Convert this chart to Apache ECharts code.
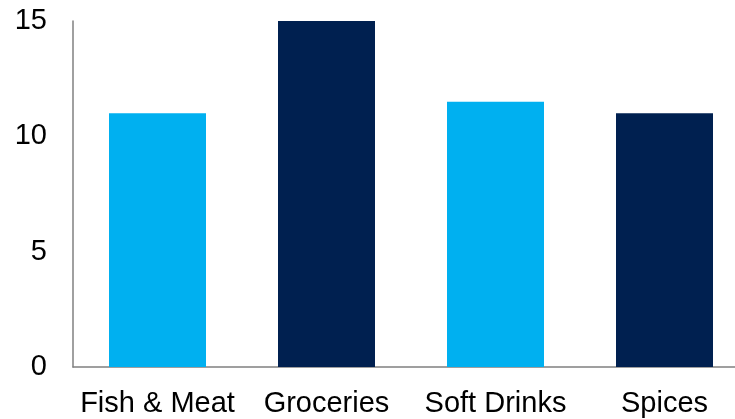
<!DOCTYPE html>
<html>
<head>
<meta charset="utf-8">
<script src="https://cdn.jsdelivr.net/npm/echarts@6/dist/echarts.min.js"></script>
<style>html,body{margin:0;padding:0;background:#fff;overflow:hidden;width:735px;height:419px}#c{width:749px;height:419px}</style>
</head>
<body>
<div id="c"></div>
<script>
const categories = ["Fish & Meat", "Groceries", "Soft Drinks", "Spices"];
const values = [11, 15, 11.5, 11];
const barColors = ["#00B0F0", "#002050", "#00B0F0", "#002050"];
const yTicks = [0, 5, 10, 15];

const chart = echarts.init(document.getElementById('c'), null, {renderer: 'canvas'});
chart.setOption({
  animation: false,
  grid: {left: 73, top: 21, right: 0, height: 346, containLabel: false},
  xAxis: {
    type: 'category',
    data: categories,
    axisLine: {show: true, lineStyle: {color: '#808080', width: 1.5}},
    axisTick: {show: false},
    axisLabel: {color: '#000', fontFamily: 'Liberation Sans', fontSize: 29, margin: 22, interval: 0}
  },
  yAxis: {
    type: 'value',
    min: yTicks[0], max: yTicks[yTicks.length - 1], interval: 5,
    axisLine: {show: true, lineStyle: {color: '#808080', width: 1.5}},
    axisTick: {show: false},
    splitLine: {show: false},
    axisLabel: {color: '#000', fontFamily: 'Liberation Sans', fontSize: 29, margin: 26}
  },
  series: [{
    type: 'bar',
    barWidth: 97,
    data: values.map((v, i) => ({value: v, itemStyle: {color: barColors[i]}}))
  }]
});
</script>
</body>
</html>
